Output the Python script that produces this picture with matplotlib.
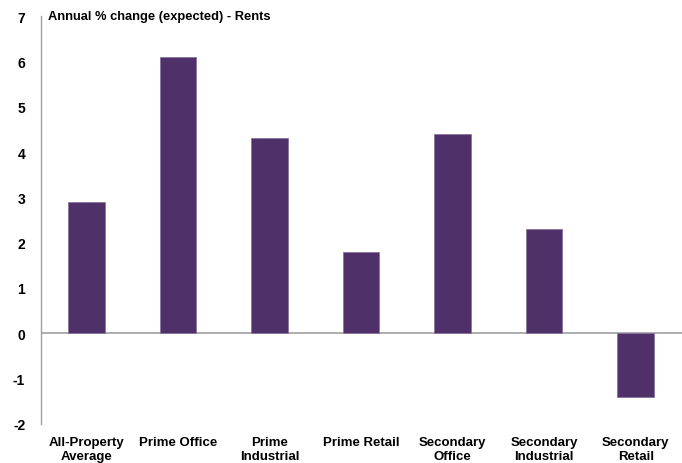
import matplotlib.pyplot as plt

categories = ['All-Property\nAverage', 'Prime Office', 'Prime\nIndustrial', 'Prime Retail',
              'Secondary\nOffice', 'Secondary\nIndustrial', 'Secondary\nRetail']
rents = [2.9, 6.1, 4.3, 1.8, 4.4, 2.3, -1.4]
y_ticks = [-2, -1, 0, 1, 2, 3, 4, 5, 6, 7]

plt.rcParams['font.family'] = ['Liberation Sans', 'DejaVu Sans']

fig = plt.figure(figsize=(6.82, 4.64), dpi=100)
ax = fig.add_axes([40.5 / 682, 39 / 464, 641 / 682, 408 / 464])

x = range(len(categories))
ax.bar(x, rents, width=0.4, color='#4F3069', edgecolor='#8A74A0', linewidth=0.6, zorder=2)
ax.axhline(0, color='#A0A0A0', linewidth=1.2, zorder=1)

ax.set_xlim(-0.5, len(categories) - 0.5)
ax.set_ylim(-2, 7)
ax.set_yticks(y_ticks)
ax.set_yticklabels([str(t) for t in y_ticks], fontweight='bold', fontsize=10)
ax.set_xticks(list(x))
ax.set_xticklabels(categories, fontweight='bold', fontsize=9.5, linespacing=1.2)
ax.tick_params(axis='y', length=0, pad=11)
ax.tick_params(axis='x', length=0, pad=9)

for side in ['top', 'right', 'bottom']:
    ax.spines[side].set_visible(False)
ax.spines['left'].set_color('#A0A0A0')
ax.spines['left'].set_linewidth(1.0)

ax.text(0.012, 7, 'Annual % change (expected) - Rents', fontweight='bold', fontsize=9.3,
        va='center', ha='left', transform=ax.get_yaxis_transform())

fig.savefig('out.png', dpi=100)
